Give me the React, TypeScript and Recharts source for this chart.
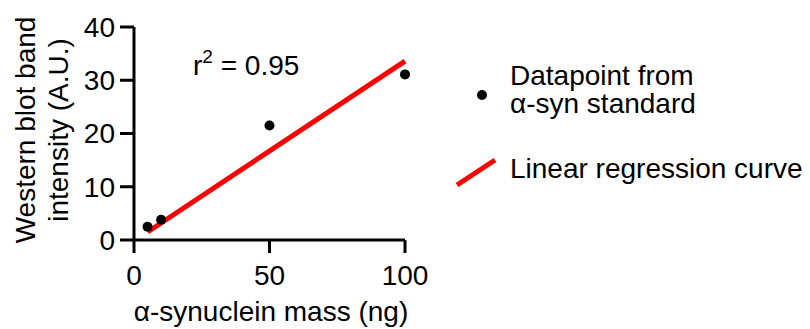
// α-syn standard curve: western blot intensity vs mass
import { ScatterChart, Scatter, XAxis, YAxis, Customized } from "recharts";

const massNg = [5, 10, 50, 100];
const bandIntensity = [2.5, 3.8, 21.5, 31.1];
const fitMass = [5, 100];
const fitIntensity = [1.5, 33.6];
const xTicks = [0, 50, 100];
const yTicks = [0, 10, 20, 30, 40];
const rSquared = "0.95";
const pointName = ["Datapoint from", "α-syn standard"];
const fitName = "Linear regression curve";

const points = massNg.map((x, i) => ({ x, y: bandIntensity[i] }));
const fit = fitMass.map((x, i) => ({ x, y: fitIntensity[i] }));

const font = "'Liberation Sans', Arial, sans-serif";
const fs = 28;

function Annotations() {
  return (
    <g fontFamily={font} fontSize={fs} fill="#000">
      {/* y axis title, two lines */}
      <text transform="translate(35,130) rotate(-90)" textAnchor="middle">
        Western blot band
      </text>
      <text transform="translate(68,130) rotate(-90)" textAnchor="middle">
        intensity (A.U.)
      </text>
      {/* x axis title */}
      <text x={271} y={321} textAnchor="middle">
        α-synuclein mass (ng)
      </text>
      {/* r squared */}
      <text x={193} y={75}>
        r
        <tspan fontSize={19} dy={-12}>2</tspan>
        <tspan dy={12}> = {rSquared}</tspan>
      </text>
      {/* legend */}
      <circle cx={482} cy={95} r={5} fill="#000" />
      <text x={510} y={85}>{pointName[0]}</text>
      <text x={510} y={113}>{pointName[1]}</text>
      <line x1={457} y1={185} x2={495} y2={160} stroke="#ff0000" strokeWidth={5} />
      <text x={510} y={178}>{fitName}</text>
    </g>
  );
}

export default function App() {
  return (
    <div style={{ position: "absolute", left: 0, top: 0, background: "#fff" }}>
      <ScatterChart
        width={810}
        height={329}
        margin={{ top: 27, right: 405, left: 54, bottom: 39 }}
      >
        <XAxis
          type="number"
          dataKey="x"
          domain={[0, 100]}
          ticks={xTicks}
          height={50}
          tickSize={13}
          tickMargin={12}
          axisLine={{ stroke: "#000", strokeWidth: 3 }}
          tickLine={{ stroke: "#000", strokeWidth: 3 }}
          tick={{ fill: "#000", fontSize: fs, fontFamily: font }}
        />
        <YAxis
          type="number"
          dataKey="y"
          domain={[0, 40]}
          ticks={yTicks}
          width={80}
          tickSize={14}
          tickMargin={5}
          axisLine={{ stroke: "#000", strokeWidth: 3 }}
          tickLine={{ stroke: "#000", strokeWidth: 3 }}
          tick={{ fill: "#000", fontSize: fs, fontFamily: font }}
        />
        <Scatter
          data={fit}
          line={{ stroke: "#ff0000", strokeWidth: 5 }}
          shape={() => <g />}
          isAnimationActive={false}
        />
        <Scatter
          data={points}
          fill="#000"
          shape={(p: any) => <circle cx={p.cx} cy={p.cy} r={5} fill="#000" />}
          isAnimationActive={false}
        />
        <Customized component={Annotations} />
      </ScatterChart>
    </div>
  );
}
